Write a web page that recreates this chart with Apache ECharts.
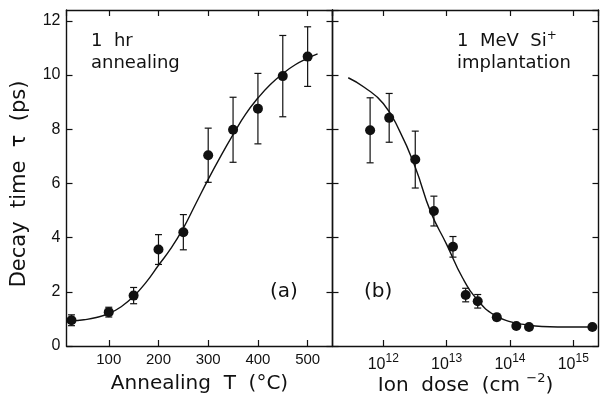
<!DOCTYPE html>
<html>
<head>
<meta charset="utf-8">
<script src="https://cdn.jsdelivr.net/npm/echarts@6/dist/echarts.min.js"></script>
<style>html,body{margin:0;padding:0;background:#fff}#c{width:603px;height:400px}</style>
</head>
<body>
<div id="c"></div>
<script>
// ---- Panel (a): annealing temperature ----
var annealT      = [25, 100, 150, 200, 250, 300, 350, 400, 450, 500];
var annealTau    = [0.95, 1.25, 1.86, 3.56, 4.2, 7.04, 7.98, 8.76, 9.96, 10.68];
var annealErr    = [0.2, 0.18, 0.3, 0.55, 0.65, 1.0, 1.2, 1.3, 1.5, 1.1];
var annealFitT   = [25, 50, 75, 100, 125, 150, 175, 200, 225, 250, 275, 300, 325, 350, 375, 400, 425, 450, 475, 500, 520];
var annealFitTau = [0.93, 0.97, 1.05, 1.2, 1.45, 1.83, 2.35, 2.98, 3.6, 4.35, 5.25, 6.15, 7.0, 7.8, 8.55, 9.15, 9.65, 10.05, 10.38, 10.62, 10.78];

// ---- Panel (b): ion dose ----
var doseX        = [6.2e11, 1.24e12, 3.2e12, 6.3e12, 1.26e13, 2.0e13, 3.1e13, 6.2e13, 1.26e14, 2.0e14, 2.0e15];
var doseTau      = [7.96, 8.42, 6.88, 4.98, 3.66, 1.88, 1.65, 1.06, 0.74, 0.7, 0.7];
var doseErr      = [1.2, 0.9, 1.05, 0.55, 0.38, 0.25, 0.25, 0.12, 0, 0, 0];
var doseFitX     = [2.8e11, 5.0e11, 1.0e12, 1.8e12, 3.2e12, 5.6e12, 1.0e13, 1.8e13, 3.2e13, 5.6e13, 1.0e14, 1.8e14, 3.2e14, 1.0e15, 2.0e15];
var doseFitTau   = [9.9, 9.55, 8.95, 7.95, 6.6, 4.95, 3.75, 2.5, 1.65, 1.15, 0.9, 0.78, 0.72, 0.7, 0.7];

// ---- axis settings ----
var tempRange = [15, 550];
var doseRange = [1.58e11, 2.5e15];
var tauRange  = [0, 12.4];
var tauStep   = 2;

function zip(a, b) { return a.map(function (v, i) { return [v, b[i]]; }); }
function zip3(a, b, c) { return a.map(function (v, i) { return [v, b[i], c[i]]; }); }

var INK = '#111';
var lineW = 1.4;

function errRender(params, api) {
  var x = api.value(0), y = api.value(1), e = api.value(2);
  if (!e) return null;
  var top = api.coord([x, y + e]);
  var bot = api.coord([x, y - e]);
  var hw = 3.5;
  var st = { stroke: INK, lineWidth: 1.2 };
  return {
    type: 'group',
    children: [
      { type: 'line', shape: { x1: top[0], y1: top[1], x2: bot[0], y2: bot[1] }, style: st },
      { type: 'line', shape: { x1: top[0] - hw, y1: top[1], x2: top[0] + hw, y2: top[1] }, style: st },
      { type: 'line', shape: { x1: bot[0] - hw, y1: bot[1], x2: bot[0] + hw, y2: bot[1] }, style: st }
    ]
  };
}

function frameAxis(extra) {
  var base = {
    axisLine: { show: true, onZero: false, lineStyle: { color: INK, width: lineW } },
    axisTick: { show: true, inside: true, length: 6, lineStyle: { color: INK, width: 1.2 } },
    splitLine: { show: false },
    axisLabel: { show: false }
  };
  for (var k in extra) base[k] = extra[k];
  return base;
}

var titleFont = { color: INK, fontSize: 20, fontFamily: 'DejaVu Sans', lineHeight: 24 };

var chart = echarts.init(document.getElementById('c'), null, { renderer: 'canvas' });
chart.setOption({
  backgroundColor: '#fff',
  animation: false,
  grid: [
    { left: 66.5, top: 10, width: 266, height: 336, containLabel: false, outerBoundsMode: 'none' },
    { left: 332.5, top: 10, width: 266, height: 336, containLabel: false, outerBoundsMode: 'none' }
  ],
  xAxis: [
    frameAxis({
      gridIndex: 0, type: 'value', position: 'bottom', min: tempRange[0], max: tempRange[1],
      axisLabel: {
        show: true, margin: 6, color: INK, fontSize: 15, fontFamily: 'Liberation Sans',
        showMinLabel: false, showMaxLabel: false,
        formatter: function (v) { return (v % 100 === 0) ? String(v) : ''; }
      },
      name: 'Annealing  T  (°C)', nameLocation: 'middle', nameGap: 26, nameMoveOverlap: false,
      nameTextStyle: titleFont
    }),
    frameAxis({ gridIndex: 0, type: 'value', position: 'top', min: tempRange[0], max: tempRange[1] }),
    frameAxis({
      gridIndex: 1, type: 'log', logBase: 10, position: 'bottom', min: doseRange[0], max: doseRange[1],
      axisLabel: {
        show: true, margin: 7, color: INK, showMinLabel: false, showMaxLabel: false,
        formatter: function (v) {
          var e = Math.log10(v);
          if (Math.abs(e - Math.round(e)) > 1e-6) return '';
          return '{b|10}{s|' + Math.round(e) + '}';
        },
        rich: {
          b: { fontSize: 16, fontFamily: 'Liberation Sans', color: INK, lineHeight: 20, verticalAlign: 'bottom' },
          s: { fontSize: 12, fontFamily: 'Liberation Sans', color: INK, verticalAlign: 'top', lineHeight: 12 }
        }
      },
      name: '{t|Ion  dose  (cm }{s|−2}{t|)}', nameLocation: 'middle', nameGap: 26, nameMoveOverlap: false,
      nameTextStyle: {
        rich: {
          t: { fontSize: 20, fontFamily: 'DejaVu Sans', color: INK, lineHeight: 24, verticalAlign: 'bottom' },
          s: { fontSize: 13, fontFamily: 'DejaVu Sans', color: INK, verticalAlign: 'top', lineHeight: 15 }
        }
      }
    }),
    frameAxis({ gridIndex: 1, type: 'log', logBase: 10, position: 'top', min: doseRange[0], max: doseRange[1] })
  ],
  yAxis: [
    frameAxis({
      gridIndex: 0, type: 'value', position: 'left', min: tauRange[0], max: tauRange[1], interval: tauStep,
      axisLabel: {
        show: true, margin: 6, color: INK, fontSize: 16, fontFamily: 'Liberation Sans',
        showMaxLabel: false,
        formatter: function (v) { return (v % 2 === 0) ? String(v) : ''; }
      }
    }),
    frameAxis({ gridIndex: 0, type: 'value', position: 'right', min: tauRange[0], max: tauRange[1], interval: tauStep }),
    frameAxis({ gridIndex: 1, type: 'value', position: 'left', min: tauRange[0], max: tauRange[1], interval: tauStep }),
    frameAxis({ gridIndex: 1, type: 'value', position: 'right', min: tauRange[0], max: tauRange[1], interval: tauStep })
  ],
  series: [
    { type: 'line', xAxisIndex: 0, yAxisIndex: 0, data: zip(annealFitT, annealFitTau), smooth: true,
      showSymbol: false, lineStyle: { color: INK, width: 1.4 }, silent: true, z: 2 },
    { type: 'custom', xAxisIndex: 0, yAxisIndex: 0, data: zip3(annealT, annealTau, annealErr),
      renderItem: errRender, z: 3 },
    { type: 'scatter', xAxisIndex: 0, yAxisIndex: 0, data: zip(annealT, annealTau), symbol: 'circle',
      symbolSize: 10, itemStyle: { color: INK, opacity: 1 }, z: 4 },
    { type: 'line', xAxisIndex: 2, yAxisIndex: 2, data: zip(doseFitX, doseFitTau), smooth: true,
      showSymbol: false, lineStyle: { color: INK, width: 1.4 }, silent: true, z: 2 },
    { type: 'custom', xAxisIndex: 2, yAxisIndex: 2, data: zip3(doseX, doseTau, doseErr),
      renderItem: errRender, z: 3 },
    { type: 'scatter', xAxisIndex: 2, yAxisIndex: 2, data: zip(doseX, doseTau), symbol: 'circle',
      symbolSize: 10, itemStyle: { color: INK, opacity: 1 }, z: 4 }
  ],
  graphic: [
    { type: 'text', x: 20, y: 184, rotation: Math.PI / 2,
      style: { text: 'Decay  time  τ  (ps)', font: '21px "DejaVu Sans"', fill: INK, align: 'center', verticalAlign: 'middle' } },
    { type: 'text', left: 91, top: 30, style: { text: '1  hr\nannealing', font: '18px "DejaVu Sans"', fill: INK, lineHeight: 22 } },
    { type: 'text', left: 457, top: 30, style: {
        text: '{t|1  MeV  Si}{s|+}\n{t|implantation}', fill: INK,
        rich: {
          t: { font: '18px "DejaVu Sans"', fill: INK, lineHeight: 22 },
          s: { font: '12px "DejaVu Sans"', fill: INK, verticalAlign: 'top', lineHeight: 12 }
        } } },
    { type: 'text', left: 270, top: 282, style: { text: '(a)', font: '20px "DejaVu Sans"', fill: INK } },
    { type: 'text', left: 364, top: 282, style: { text: '(b)', font: '20px "DejaVu Sans"', fill: INK } }
  ]
});
</script>
</body>
</html>
